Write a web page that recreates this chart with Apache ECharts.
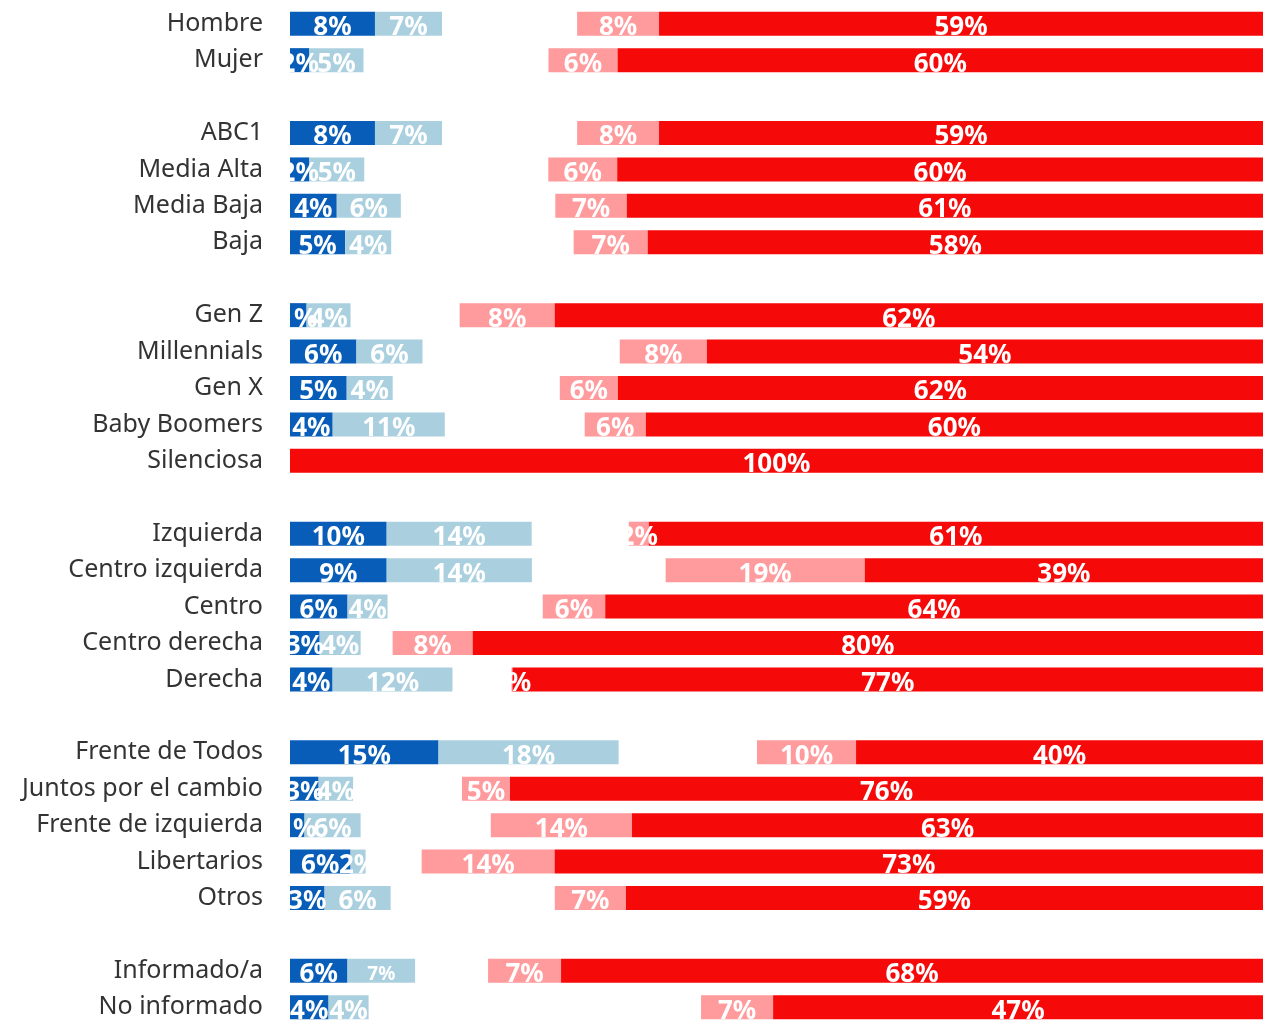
<!DOCTYPE html>
<html>
<head>
<meta charset="utf-8">
<script src="https://cdn.jsdelivr.net/npm/echarts@6/dist/echarts.min.js"></script>
<style>
    html, body { margin: 0; padding: 0; background: #fff; overflow: hidden; }
    #chart { width: 1275px; height: 1032px; }
</style>
</head>
<body>
<div id="chart"></div>
<script>
    // grupos de filas (se separan con una fila vacía)
    var groups = [
        ['Hombre', 'Mujer'],
        ['ABC1', 'Media Alta', 'Media Baja', 'Baja'],
        ['Gen Z', 'Millennials', 'Gen X', 'Baby Boomers', 'Silenciosa'],
        ['Izquierda', 'Centro izquierda', 'Centro', 'Centro derecha', 'Derecha'],
        ['Frente de Todos', 'Juntos por el cambio', 'Frente de izquierda', 'Libertarios', 'Otros'],
        ['Informado/a', 'No informado']
    ];

    // valores (%), en el orden de las filas
    var muyPositivo = [8.3, 1.8, 8.3, 1.8, 4.45, 5.2, 1.45, 6.45, 5.45, 4.15, 0, 9.6, 9.42, 5.6, 3.0, 4.37, 14.6, 2.9, 1.45, 6.24, 3.2, 5.57, 3.7];
    var positivo = [6.55, 5.03, 6.55, 5.1, 6.1, 4.34, 3.85, 6.42, 4.42, 10.9, 0, 14.4, 14.15, 3.89, 4.15, 12.3, 17.7, 3.5, 5.6, 1.55, 6.12, 6.55, 3.84];
    var nsnc = [13.2, 17.2, 13.2, 17.1, 14.7, 17.2, 9.55, 19.15, 16.06, 13.6, 0, 9.64, 13.03, 15.1, 3.24, 6.06, 13.6, 11.05, 13.0, 5.78, 15.2, 7.07, 31.9];
    var negativo = [8.0, 6.42, 8.0, 6.4, 6.8, 6.98, 8.32, 8.46, 5.58, 5.94, 0, 1.99, 19.4, 6.08, 8.1, 0.1, 9.74, 4.87, 14.1, 13.7, 6.58, 7.07, 6.91];
    var muyNegativo = [59.0, 60.0, 59.0, 60.0, 60.55, 58.0, 62.0, 54.0, 62.0, 60.0, 100, 61.0, 38.8, 64.0, 80.0, 77.0, 40.0, 76.4, 63.0, 73.0, 59.0, 68.0, 47.0];

    var myChart = echarts.init(document.getElementById('chart'));

    // categorías con filas vacías entre grupos
    var categories = [];
    var rowIndex = [];
    var k = 0;
    groups.forEach(function (g, gi) {
        if (gi > 0) {
            categories.push(new Array(gi + 1).join(' '));
            rowIndex.push(-1);
        }
        g.forEach(function (name) {
            categories.push(name);
            rowIndex.push(k++);
        });
    });

    var allSeries = [muyPositivo, positivo, nsnc, negativo, muyNegativo];
    var names = ['Muy positivo', 'Positivo', 'Ns/Nc', 'Negativo', 'Muy negativo'];
    var colors = ['#075DB7', '#AAD0DF', 'rgba(0,0,0,0)', '#FF9A9D', '#F60909'];

    function rowTotal(i) {
        var s = 0;
        allSeries.forEach(function (arr) { s += arr[i]; });
        return s;
    }

    var series = allSeries.map(function (arr, si) {
        return {
            name: names[si],
            type: 'bar',
            stack: 'total',
            barWidth: 24,
            itemStyle: {color: colors[si]},
            label: {
                show: si !== 2,
                position: 'inside',
                color: '#fff',
                fontFamily: 'Noto Sans',
                fontWeight: 'bold',
                fontSize: 26,
                offset: [0, 4],
                formatter: function (p) {
                    if (!p.data || !p.data.raw) return '';
                    return Math.round(p.data.raw) + '%';
                }
            },
            data: rowIndex.map(function (r, ci) {
                if (r < 0) return null;
                var item = {value: arr[r] / rowTotal(r) * 100, raw: arr[r]};
                // etiqueta más chica en Informado/a (positivo)
                if (si === 1 && categories[ci] === 'Informado/a') {
                    item.label = {fontSize: 19};
                }
                return item;
            })
        };
    });

    var option = {
        animation: false,
        grid: {
            left: 290,
            right: 12,
            top: 5.5,
            height: 1020
        },
        xAxis: {
            type: 'value',
            min: 0,
            max: 100,
            show: false
        },
        yAxis: {
            type: 'category',
            inverse: true,
            data: categories,
            axisLine: {show: false},
            axisTick: {show: false},
            axisLabel: {
                margin: 27,
                color: '#333',
                fontFamily: 'Noto Sans',
                fontSize: 25,
                padding: [4, 0, 0, 0]
            }
        },
        series: series
    };

    myChart.setOption(option);
</script>
</body>
</html>
